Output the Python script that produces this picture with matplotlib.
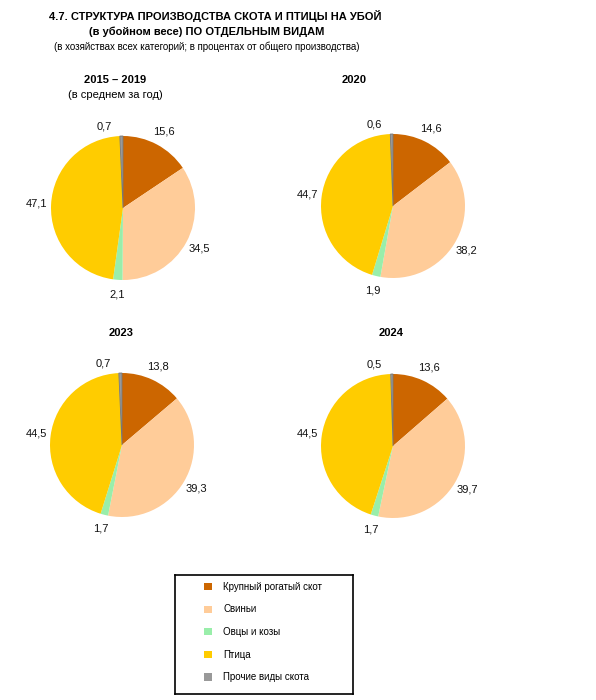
import numpy as np
import matplotlib.pyplot as plt
from matplotlib.patches import Patch

plt.rcParams['font.family'] = ['Liberation Sans', 'DejaVu Sans']

# Данные
categories = ['Крупный рогатый скот', 'Свиньи', 'Овцы и козы', 'Птица', 'Прочие виды скота']
colors = ['#CC6600', '#FFCC99', '#99EEAA', '#FFCC00', '#999999']

titles = ['2015 – 2019', '2020', '2023', '2024']
subtitles = ['(в среднем за год)', '', '', '']
vals_2015_2019 = [15.6, 34.5, 2.1, 47.1, 0.7]
vals_2020 = [14.6, 38.2, 1.9, 44.7, 0.6]
vals_2023 = [13.8, 39.3, 1.7, 44.5, 0.7]
vals_2024 = [13.6, 39.7, 1.7, 44.5, 0.5]
all_vals = [vals_2015_2019, vals_2020, vals_2023, vals_2024]

W, H = 596, 700
fig = plt.figure(figsize=(W / 100, H / 100), dpi=100)

# центры и радиусы диаграмм в пикселях, позиции заголовков
centers = [(123, 208), (393, 206), (122, 445), (393, 446)]
radius = 72
title_pos = [(115, 80), (354, 80), (121, 333), (391, 333)]


def fx(x):
    return x / W


def fy(y):
    return 1 - y / H


for vals, (cx, cy), t, st, (tx, ty) in zip(all_vals, centers, titles, subtitles, title_pos):
    ax = fig.add_axes([fx(cx - radius), fy(cy + radius), 2 * radius / W, 2 * radius / H])
    wedges, _ = ax.pie(vals, colors=colors, startangle=90, counterclock=False,
                       radius=1, wedgeprops=dict(linewidth=0))
    wedges[-1].set_edgecolor('#777777')
    wedges[-1].set_linewidth(0.6)
    ax.set_xlim(-1, 1)
    ax.set_ylim(-1, 1)
    ax.set_aspect('equal')
    ax.axis('off')

    # подписи значений
    start = 90.0
    for i, v in enumerate(vals):
        mid = start - v * 3.6 / 2
        start -= v * 3.6
        dist = 1.2
        if i == len(vals) - 1:
            mid += 12
            dist = 1.16
        a = np.deg2rad(mid)
        ax.text(dist * np.cos(a), dist * np.sin(a), f'{v:.1f}'.replace('.', ','),
                ha='center', va='center', fontsize=8, color='#111111')

    fig.text(fx(tx), fy(ty), t, ha='center', va='center', fontsize=8, fontweight='bold')
    if st:
        fig.text(fx(tx), fy(ty + 15), st, ha='center', va='center', fontsize=8)

# заголовок
fig.text(fx(215), fy(16.5), '4.7. СТРУКТУРА ПРОИЗВОДСТВА СКОТА И ПТИЦЫ НА УБОЙ',
         ha='center', va='center', fontsize=8, fontweight='bold')
fig.text(fx(207), fy(32), '(в убойном весе) ПО ОТДЕЛЬНЫМ ВИДАМ',
         ha='center', va='center', fontsize=8, fontweight='bold')
fig.text(fx(207), fy(46.5), '(в хозяйствах всех категорий; в процентах от общего производства)',
         ha='center', va='center', fontsize=7)

# легенда в рамке
lax = fig.add_axes([fx(175), fy(694), 178 / W, 119 / H])
lax.set_xticks([])
lax.set_yticks([])
for s in lax.spines.values():
    s.set_linewidth(1.2)
    s.set_color('black')
handles = [Patch(facecolor=c, edgecolor='none') for c in colors]
lax.legend(handles, categories, loc='center left', bbox_to_anchor=(0.115, 0.52),
           frameon=False, fontsize=7, handlelength=0.75, handleheight=0.75,
           handletextpad=1.2, labelspacing=1.3)

fig.savefig('out.png', dpi=100)
